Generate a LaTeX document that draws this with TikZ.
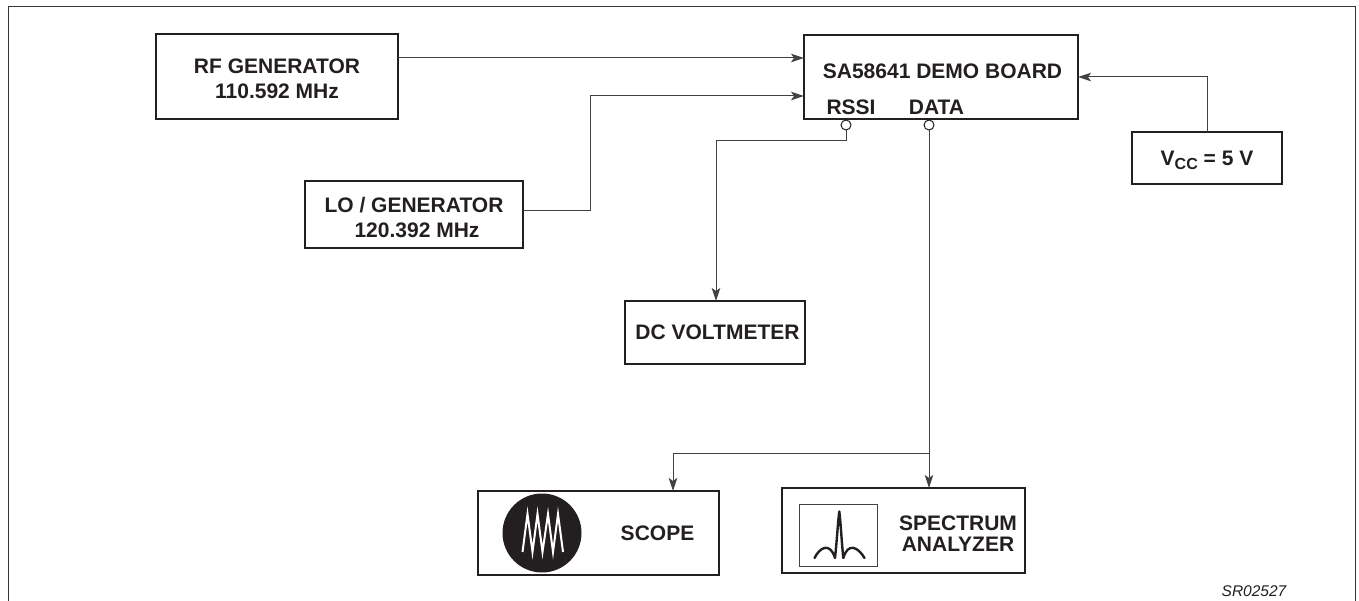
\documentclass[tikz,border=0pt]{standalone}
\usepackage{fontspec}
\setmainfont{Liberation Sans}
\usetikzlibrary{arrows.meta}
\definecolor{ink}{HTML}{231F20}
\tikzset{
  box/.style={draw=ink,line width=2.2pt,outer sep=0pt,inner sep=0pt},
  lbl/.style={inner sep=0pt,outer sep=0pt,text=ink,align=center,font=\bfseries\fontsize{21}{25}\selectfont},
  conn/.style={draw=ink!85,line width=1pt},
  arr/.style={conn,-{Stealth[length=13pt,width=8.5pt,inset=3pt]}},
  port/.style={circle,draw=ink,fill=white,line width=1pt,minimum size=10pt,inner sep=0pt,outer sep=0pt},
  frameline/.style={draw=ink!90,line width=1pt}
}
\begin{document}
\begin{tikzpicture}[x=1pt,y=-1pt]
\useasboundingbox (0,0) rectangle (1359,601);
\draw[frameline] (8,601) -- (8,7) -- (1355,7) -- (1355,601);

\node[box,minimum width=242pt,minimum height=85pt] (rf) at (277,76.5) {};
\node[lbl] (rflabel) at (277,78.5) {RF GENERATOR\\110.592 MHz};
\node[box,minimum width=274pt,minimum height=84pt] (board) at (941,77) {};
\node[lbl,anchor=base] (boardname) at (942.5,79) {SA58641 DEMO BOARD};
\node[lbl,anchor=base] (rssilabel) at (851,115) {RSSI};
\node[lbl,anchor=base] (datalabel) at (936.5,115) {DATA};
\node[port] (rssi) at (846,125) {};
\node[port] (data) at (929,125) {};
\node[box,minimum width=218pt,minimum height=67pt] (lo) at (414,214.5) {};
\node[lbl] (lolabel) at (414,218) {LO / GENERATOR\\\hspace{6pt}120.392 MHz};
\node[box,minimum width=150pt,minimum height=52pt] (vcc) at (1207,158) {};
\node[lbl,anchor=base] (vcclabel) at (1207,166) {V\raisebox{-4pt}{\fontsize{16}{16}\selectfont CC} = 5 V};
\node[box,minimum width=180pt,minimum height=63pt] (dv) at (715,332.5) {};
\node[lbl,anchor=base] (dvlabel) at (717.5,340) {DC VOLTMETER};
\node[box,minimum width=241pt,minimum height=84pt] (scope) at (598.5,533) {};
\node[lbl,anchor=base] (scopelabel) at (657.5,540) {SCOPE};
\node[box,minimum width=243pt,minimum height=85pt] (spec) at (903.5,530.5) {};
\node[lbl,font=\bfseries\fontsize{21}{21}\selectfont] (speclabel) at (958,533.5) {SPECTRUM\\ANALYZER};
\node[inner sep=0pt,anchor=base,text=ink,font=\itshape\fontsize{15.5}{18}\selectfont] (code) at (1254,596) {SR02527};

% scope icon
\fill[ink] (542,533) circle (39.5);
\draw[white,line width=2pt,line join=miter,miter limit=20] (522.5,552) -- (527.5,514) -- (532.5,552) -- (537.5,514) -- (542.5,552) -- (548,514) -- (553,552) -- (558,514) -- (563,552);
% spectrum icon
\draw[ink!85,line width=1pt] (799,504) rectangle (877,566);
\draw[ink,line width=2.4pt,line cap=round,line join=round] (814.5,558) .. controls (820,547) and (830,542) .. (835,558) .. controls (837,540) and (838,520) .. (839.3,511.5) .. controls (840.5,520) and (841.5,540) .. (843.3,558) .. controls (848,542) and (858,547) .. (864.5,558);

% connectors
\coordinate (lobend) at (590,96);
\coordinate (rssibend) at (716,141);
\coordinate (split) at (929,453);
\draw[arr] ([yshift=18.5pt]rf.east) -- ([yshift=19pt]board.west);
\draw[arr] ([yshift=3.5pt]lo.east) -| (lobend) -- ([yshift=-19pt]board.west);
\draw[arr] (vcc.north) |- (board.east);
\draw[arr] (rssi.south) |- (rssibend) -- (rssibend |- dv.north);
\draw[arr] (data.south) -- (split) -- (split |- spec.north);
\draw[arr] (split) -| ([xshift=74.5pt]scope.north);
\end{tikzpicture}
\end{document}
